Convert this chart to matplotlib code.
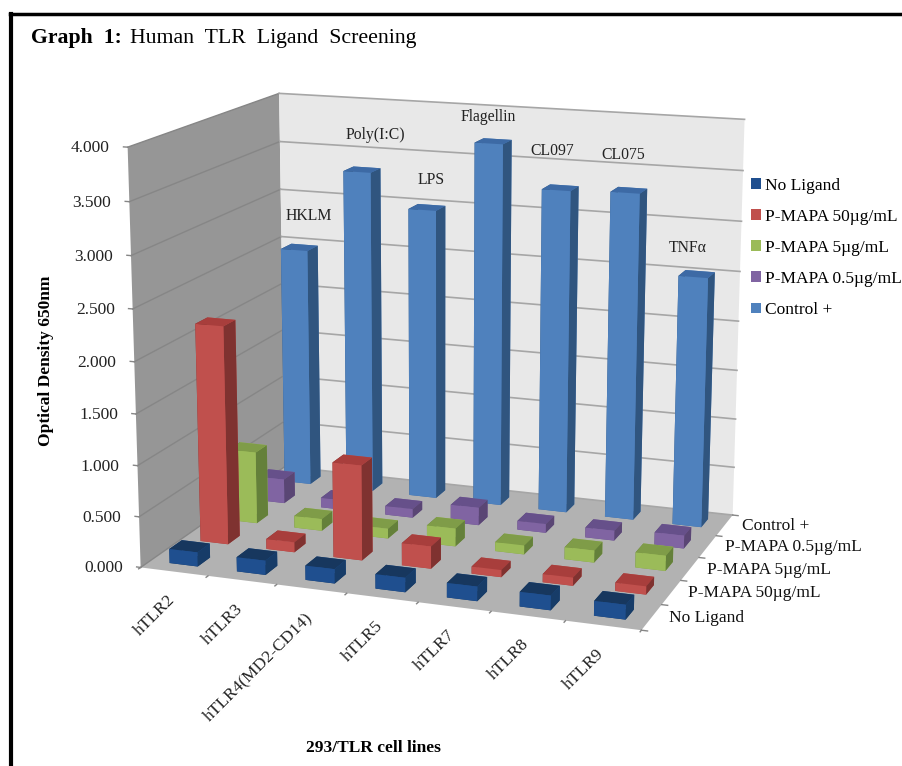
import numpy as np
import matplotlib
matplotlib.use('Agg')
import matplotlib.pyplot as plt
from matplotlib.lines import Line2D
from matplotlib.patches import Patch
from mpl_toolkits.mplot3d import proj3d

plt.rcParams['font.family'] = ['Liberation Serif', 'DejaVu Sans']

cell_lines = ['hTLR2', 'hTLR3', 'hTLR4(MD2-CD14)', 'hTLR5', 'hTLR7', 'hTLR8', 'hTLR9']
series_names = ['No Ligand', 'P-MAPA 50µg/mL', 'P-MAPA 5µg/mL', 'P-MAPA 0.5µg/mL', 'Control +']
no_ligand = [0.14, 0.14, 0.14, 0.14, 0.14, 0.14, 0.14]
pmapa_50 = [2.17, 0.10, 0.94, 0.22, 0.07, 0.08, 0.08]
pmapa_5 = [0.73, 0.12, 0.10, 0.18, 0.09, 0.12, 0.15]
pmapa_05 = [0.25, 0.10, 0.09, 0.18, 0.09, 0.10, 0.13]
control = [2.48, 3.33, 2.99, 3.70, 3.28, 3.30, 2.52]
control_labels = ['HKLM', 'Poly(I:C)', 'LPS', 'Flagellin', 'CL097', 'CL075', 'TNFα']
z_ticks = [0, 0.5, 1, 1.5, 2, 2.5, 3, 3.5, 4]

# hand placed text boxes over the chart, in pixels of the picture
control_label_x = [309, 375, 431, 488, 552, 623, 688]
control_label_y = [216, 135, 180, 117, 151, 155, 248]

# front, top, side
colors = [('#1f4f8f', '#17375e', '#173c68'),
          ('#c0504d', '#a83e3c', '#7f3230'),
          ('#9bbb59', '#7f9c48', '#64803a'),
          ('#8064a2', '#66508a', '#5a4674'),
          ('#4f81bd', '#3d6aa5', '#30557f')]

W, H = 903, 766
fig = plt.figure(figsize=(W / 100, H / 100), dpi=100)

# view found by fitting the box corners to the reference
size, cx, cy = 732.124, 436.2, 350.687
ax = fig.add_axes([(cx - size / 2) / W, (H - cy - size / 2) / H, size / W, size / H], projection='3d')
ax.set_xlim(0, 7)
ax.set_ylim(0, 5)
ax.set_zlim(0, 4)
ax.view_init(14.231, -70.287, -0.036)
ax.set_proj_type('persp', focal_length=0.635)
ax.set_box_aspect((1, 0.704, 0.821))
ax.apply_aspect()

ax.grid(False)
ax.xaxis.set_pane_color('#969696')
ax.yaxis.set_pane_color('#e8e8e8')
ax.zaxis.set_pane_color('#b2b2b2')
for axis in (ax.xaxis, ax.yaxis, ax.zaxis):
    axis.pane.set_edgecolor('none')
    axis.line.set_color((0, 0, 0, 0))
    axis.set_ticks([])
ax.computed_zorder = False


def label(x, y, z, s, dx=0, dy=0, **kw):
    # Text3D ignores rotation, so project the point and put a normal annotation there
    px, py, _ = proj3d.proj_transform(x, y, z, ax.get_proj())
    ax.annotate(s, xy=(px, py), xycoords='data', xytext=(dx, dy), textcoords='offset pixels',
                annotation_clip=False, **kw)


for z in z_ticks:
    ax.plot([0, 0], [0, 5], [z, z], color='#868686', lw=1, zorder=1)
    ax.plot([0, 7], [5, 5], [z, z], color='#a6a6a6', lw=1.2, zorder=1)
    ax.plot([-0.06, 0], [0, 0], [z, z], color='#868686', lw=1, zorder=1)
    label(0, 0, z, '%.3f' % z, dx=-18, dy=-1, ha='right', va='center', fontsize=12.5, color='#222222')
for i in range(8):
    ax.plot([i, i], [0, -0.06], [0, 0], color='#868686', lw=1, zorder=1)
for j in range(6):
    ax.plot([7, 7.08], [j, j], [0, 0], color='#868686', lw=1, zorder=1)

rows = [no_ligand, pmapa_50, pmapa_5, pmapa_05, control]
xx, yy, hh, cc = [], [], [], []
bar_w, bar_d = 0.42, 0.4
for j, row in enumerate(rows):
    for i, v in enumerate(row):
        xx.append(i + 0.5 - bar_w / 2)
        yy.append(j + 0.5 - bar_d / 2)
        hh.append(v)
        front, top, side = colors[j]
        cc += [top, top, front, front, side, side]
ax.bar3d(xx, yy, np.zeros(len(xx)), bar_w, bar_d, hh, color=cc, shade=False, linewidth=0, zorder=2)

for i, name in enumerate(cell_lines):
    label(i + 0.5, 0, 0, name, dx=-2, dy=-26, rotation=45, rotation_mode='anchor', ha='right', va='center',
          fontsize=12.5, color='#222222')
for j, name in enumerate(series_names):
    label(7, j + 0.5, 0, name, dx=17, dy=-1, ha='left', va='center', fontsize=12.5, color='#111111')
for name, lx, ly in zip(control_labels, control_label_x, control_label_y):
    fig.text(lx / W, 1 - ly / H, name, ha='center', va='center', fontsize=11.3, color='#222222')

handles = [Patch(facecolor=colors[j][0], label=series_names[j]) for j in range(5)]
fig.legend(handles=handles, loc='upper left', bbox_to_anchor=(751 / W, 1 - 177.5 / H), frameon=False,
           fontsize=12.5, handlelength=0.55, handleheight=0.55, handletextpad=0.25, labelspacing=0.87,
           borderaxespad=0, borderpad=0)

fig.text(31 / W, 1 - 38 / H, 'Graph  1:', fontsize=15.7, fontweight='bold', va='center')
fig.text(130 / W, 1 - 38 / H, 'Human  TLR  Ligand  Screening', fontsize=15.7, va='center')
fig.text(46 / W, 1 - 361 / H, 'Optical Density 650nm', rotation=90, fontsize=12.5, fontweight='bold', ha='center', va='center')
fig.text(373 / W, 1 - 748 / H, '293/TLR cell lines', fontsize=12.5, fontweight='bold', ha='center', va='center')

fig.add_artist(Line2D([11 / W, 11 / W], [0, 1 - 14 / H], color='black', lw=3))
fig.add_artist(Line2D([10 / W, 1], [1 - 14 / H, 1 - 14 / H], color='black', lw=2.5))

fig.savefig('out.png', dpi=100)
